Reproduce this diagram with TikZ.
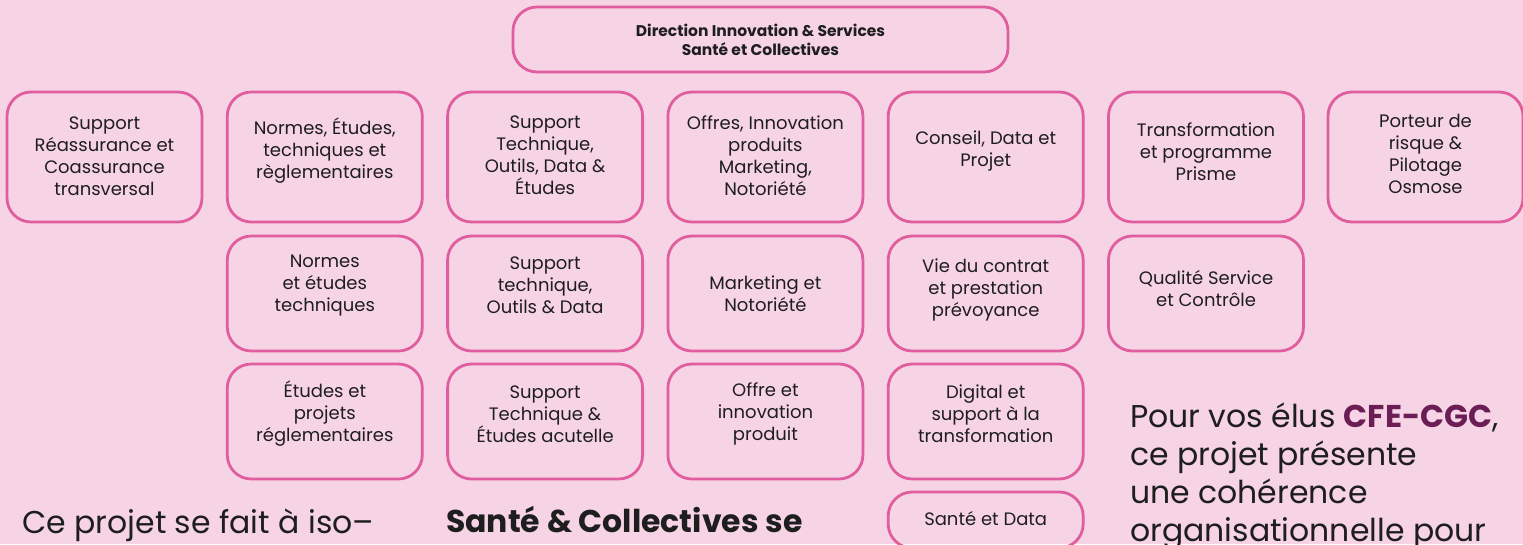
\documentclass[tikz,border=0pt]{standalone}
\usepackage{fontspec}
\setmainfont{Poppins}
\definecolor{bgpink}{RGB}{247,211,230}
\definecolor{boxline}{RGB}{224,94,157}
\definecolor{ink}{RGB}{30,30,30}
\definecolor{plum}{RGB}{106,30,85}
\begin{document}
\begin{tikzpicture}[x=1pt,y=-1pt,
  box/.style={draw=boxline, line width=2.8pt, rounded corners=24pt, minimum width=195pt, inner sep=0pt},
  r1/.style={box, minimum height=130pt},
  r2/.style={box, minimum height=115pt},
  txt/.style={align=center, font=\fontsize{18}{22}\selectfont, text=ink, inner sep=0pt},
  big/.style={font=\fontsize{31.5}{38}\selectfont, text=ink, inner sep=0pt, align=left},
]
\useasboundingbox (0,0) rectangle (1523,544);
\fill[bgpink] (0,0) rectangle (1523,544);
\clip (0,0) rectangle (1523,544);

% top box
\node[box, minimum width=495pt, minimum height=65pt] (top) at (760.5,39.5) {};
\node[txt, font=\fontsize{15.5}{19}\selectfont\bfseries] (toptxt) at (760.5,39.5) {Direction Innovation \& Services\\Santé et Collectives};

% row 1
\node[r1] (a1) at (104.5,157) {};
\node[txt] (a1t) at (104.5,156) {Support\\Réassurance et\\Coassurance\\transversal};
\node[r1] (a2) at (324.8,157) {};
\node[txt] (a2t) at (324.8,151) {Normes, Études,\\techniques et\\règlementaires};
\node[r1] (a3) at (545.1,157) {};
\node[txt] (a3t) at (545.1,155) {Support\\Technique,\\Outils, Data \&\\Études};
\node[r1] (a4) at (765.4,157) {};
\node[txt] (a4t) at (765.4,156) {Offres, Innovation\\produits\\Marketing,\\Notoriété};
\node[r1] (a5) at (985.7,157) {};
\node[txt] (a5t) at (985.7,151) {Conseil, Data et\\Projet};
\node[r1] (a6) at (1206,157) {};
\node[txt] (a6t) at (1206,152) {Transformation\\et programme\\Prisme};
\node[r1] (a7) at (1425.5,157) {};
\node[txt] (a7t) at (1425.5,154) {Porteur de\\risque \&\\Pilotage\\Osmose};

% row 2
\node[r2] (b2) at (324.8,293.5) {};
\node[txt] (b2t) at (324.8,286) {Normes\\et études\\techniques};
\node[r2] (b3) at (545.1,293.5) {};
\node[txt] (b3t) at (545.1,285.5) {Support\\technique,\\Outils \& Data};
\node[r2] (b4) at (765.4,293.5) {};
\node[txt] (b4t) at (765.4,293.5) {Marketing et\\Notoriété};
\node[r2] (b5) at (985.7,293.5) {};
\node[txt] (b5t) at (985.7,290) {Vie du contrat\\et prestation\\prévoyance};
\node[r2] (b6) at (1206,293.5) {};
\node[txt] (b6t) at (1206,289) {Qualité Service\\et Contrôle};

% row 3
\node[r2] (c2) at (324.8,421.5) {};
\node[txt] (c2t) at (324.8,414) {Études et\\projets\\réglementaires};
\node[r2] (c3) at (545.1,421.5) {};
\node[txt] (c3t) at (545.1,414) {Support\\Technique \&\\Études acutelle};
\node[r2] (c4) at (765.4,421.5) {};
\node[txt] (c4t) at (765.4,414) {Offre et\\innovation\\produit};
\node[r2] (c5) at (985.7,421.5) {};
\node[txt] (c5t) at (985.7,414) {Digital et\\support à la\\transformation};

% row 4
\node[box, minimum height=56pt] (d5) at (985.7,520) {};
\node[txt] (d5t) at (985.7,519) {Santé et Data};

% bottom texts
\node[big, anchor=base west] (left) at (22,533) {Ce projet se fait à iso–};
\node[big, anchor=base west, font=\fontsize{31.5}{38}\selectfont\bfseries] (mid) at (446,532) {Santé \& Collectives se};
\node[big, anchor=base west] (right) at (1130,541) {Pour vos élus \textcolor{plum}{\bfseries CFE-CGC},\\ce projet présente\\une cohérence\\organisationnelle pour};
\end{tikzpicture}
\end{document}
